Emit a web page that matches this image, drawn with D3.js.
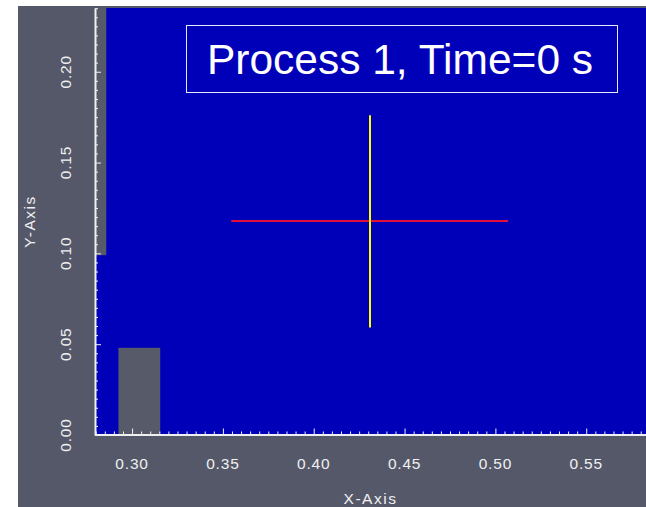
<!DOCTYPE html>
<html>
<head>
<meta charset="utf-8">
<script src="https://cdn.jsdelivr.net/npm/d3@7"></script>
<style>
  html, body { margin: 0; padding: 0; background: #ffffff; }
  svg { display: block; }
</style>
</head>
<body>
<svg id="chart" width="646" height="507"></svg>
<script>
// Domain extents of the view (data units)
const xExtent = [0.2796, 0.5829];
const yExtent = [0.0, 0.2351];

// Axis ticks
const xMajorTicks = [0.30, 0.35, 0.40, 0.45, 0.50, 0.55];
const yMajorTicks = [0.00, 0.05, 0.10, 0.15, 0.20];
const tickStep = 0.005;

// Solid regions: [x0, x1, y0, y1]
const solidX0 = [0.2796, 0.2925];
const solidX1 = [0.2858, 0.3155];
const solidY0 = [0.099, 0.0];
const solidY1 = [0.2351, 0.048];

// Probe cross: centre and half-lengths
const crossCenter = [0.4308, 0.1176];
const crossHalfX = 0.0762;
const crossHalfY = 0.0584;

const titleText = "Process 1, Time=0 s";
const xLabel = "X-Axis";
const yLabel = "Y-Axis";

const svg = d3.select("#chart");
const bg = "#555869";
const blue = "#0000b9";
const solidFill = "#575a68";
const fg = "#f0f0f0";
const font = "Liberation Sans, Arial, sans-serif";

// Frame
svg.append("rect").attr("x", 18).attr("y", 6).attr("width", 628).attr("height", 501).attr("fill", bg);

const plotL = 95, plotR = 646, plotT = 8, plotB = 435;
const x = d3.scaleLinear().domain(xExtent).range([plotL, plotR]);
const y = d3.scaleLinear().domain(yExtent).range([plotB, plotT]);

// Fluid domain
svg.append("rect")
  .attr("x", x(xExtent[0])).attr("y", y(yExtent[1]))
  .attr("width", x(xExtent[1]) - x(xExtent[0]))
  .attr("height", y(yExtent[0]) - y(yExtent[1]))
  .attr("fill", blue);

// Solid regions
svg.append("g").selectAll("rect")
  .data(d3.range(solidX0.length))
  .join("rect")
  .attr("x", i => x(solidX0[i]))
  .attr("y", i => y(solidY1[i]))
  .attr("width", i => x(solidX1[i]) - x(solidX0[i]))
  .attr("height", i => y(solidY0[i]) - y(solidY1[i]))
  .attr("fill", solidFill);

// Probe cross
svg.append("line")
  .attr("x1", x(crossCenter[0] - crossHalfX)).attr("x2", x(crossCenter[0] + crossHalfX))
  .attr("y1", Math.round(y(crossCenter[1]))).attr("y2", Math.round(y(crossCenter[1])))
  .attr("stroke", "#e0103a").attr("stroke-width", 2);
svg.append("line")
  .attr("x1", Math.round(x(crossCenter[0]))).attr("x2", Math.round(x(crossCenter[0])))
  .attr("y1", y(crossCenter[1] + crossHalfY)).attr("y2", y(crossCenter[1] - crossHalfY))
  .attr("stroke", "#ffff00").attr("stroke-width", 2);

// Title box
const tg = svg.append("g");
tg.append("rect").attr("x", 186.5).attr("y", 25.5).attr("width", 431).attr("height", 67)
  .attr("fill", "none").attr("stroke", "#e8e8ff").attr("stroke-width", 1);
tg.append("text").attr("x", 400).attr("y", 74)
  .attr("text-anchor", "middle")
  .attr("font-family", font)
  .attr("font-size", 42.5).attr("fill", "#ffffff")
  .text(titleText);

// X axis (ticks point up into the plot)
const xMinor = d3.range(Math.ceil(xExtent[0] / tickStep), Math.floor(xExtent[1] / tickStep) + 1)
  .map(k => +(k * tickStep).toFixed(4));
const xAxis = d3.axisTop(x).tickValues(xMinor).tickFormat("")
  .tickSizeInner(3).tickSizeOuter(0);
const gx = svg.append("g").attr("transform", `translate(0,${plotB - 0.5})`).call(xAxis);
gx.select(".domain").attr("stroke", fg).attr("stroke-width", 2);
gx.selectAll(".tick line").attr("stroke", fg)
  .attr("y2", d => xMajorTicks.some(m => Math.abs(m - d) < 1e-6) ? -6 : -3);

svg.append("g").selectAll("text")
  .data(xMajorTicks).join("text")
  .attr("x", d => x(d)).attr("y", 469)
  .attr("text-anchor", "middle")
  .attr("font-family", font)
  .attr("font-size", 15.5).attr("letter-spacing", 0.8).attr("fill", fg)
  .text(d => d.toFixed(2));

// Y axis (ticks point right into the plot)
const yMinor = d3.range(0, Math.floor(yExtent[1] / tickStep) + 1)
  .map(k => +(k * tickStep).toFixed(4));
const yAxis = d3.axisRight(y).tickValues(yMinor).tickFormat("")
  .tickSizeInner(3).tickSizeOuter(0);
const gy = svg.append("g").attr("transform", `translate(${plotL},0)`).call(yAxis);
gy.select(".domain").attr("stroke", fg).attr("stroke-width", 2);
gy.selectAll(".tick line").attr("stroke", fg)
  .attr("x2", d => yMajorTicks.some(m => Math.abs(m - d) < 1e-6) ? 6 : 3);

svg.append("g").selectAll("text")
  .data(yMajorTicks).join("text")
  .attr("transform", d => `translate(71,${y(d)}) rotate(-90)`)
  .attr("text-anchor", "middle")
  .attr("font-family", font)
  .attr("font-size", 15.5).attr("letter-spacing", 0.8).attr("fill", fg)
  .text(d => d.toFixed(2));

// Axis titles
svg.append("text").attr("x", (plotL + plotR) / 2).attr("y", 504)
  .attr("text-anchor", "middle")
  .attr("font-family", font)
  .attr("font-size", 15.5).attr("letter-spacing", 1.5).attr("fill", fg)
  .text(xLabel);
svg.append("text")
  .attr("transform", `translate(35,${(plotT + plotB) / 2}) rotate(-90)`)
  .attr("text-anchor", "middle")
  .attr("font-family", font)
  .attr("font-size", 15.5).attr("letter-spacing", 1.5).attr("fill", fg)
  .text(yLabel);
</script>
</body>
</html>
